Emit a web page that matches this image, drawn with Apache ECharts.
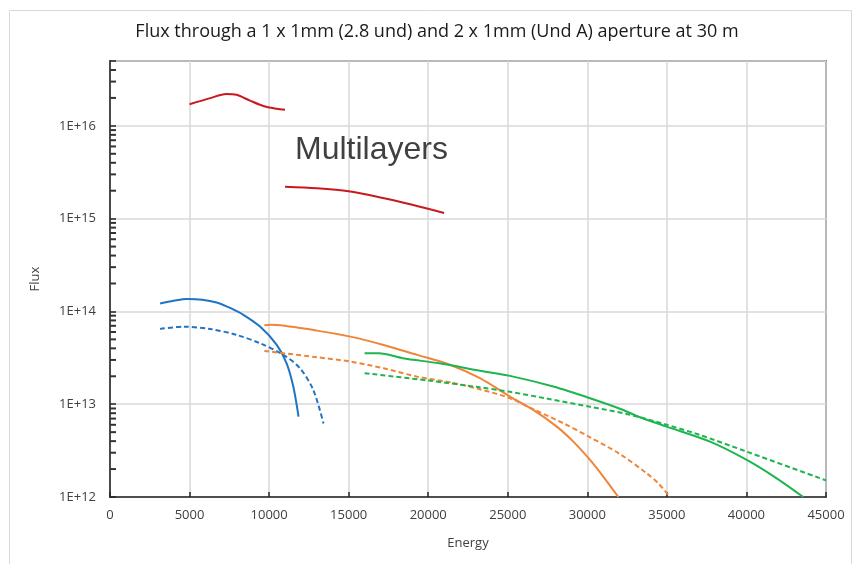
<!DOCTYPE html>
<html>
<head>
<meta charset="utf-8">
<script src="https://cdn.jsdelivr.net/npm/echarts@6/dist/echarts.min.js"></script>
<style>
html,body{margin:0;padding:0;background:#fff;}
#chart{width:856px;height:564px;}
</style>
</head>
<body>
<div id="chart"></div>
<script>
// ---- data (Energy, Flux) ----
const xTicks = [0, 5000, 10000, 15000, 20000, 25000, 30000, 35000, 40000, 45000];
const yTickExponents = [12, 13, 14, 15, 16];
const yMinorMultipliers = [2, 3, 4, 5, 6, 7, 8, 9];

const redUpper = [[5000,1.71e16],[6300,1.99e16],[7300,2.21e16],[7950,2.16e16],[8800,1.87e16],[9630,1.64e16],[10480,1.53e16],[11000,1.49e16]];
const redLower = [[11000,2.2e15],[13000,2.12e15],[15000,1.97e15],[17000,1.69e15],[19000,1.41e15],[21000,1.15e15]];

const blueSolid = [[3150,1.22e14],[4000,1.3e14],[4820,1.36e14],[5800,1.34e14],[6700,1.25e14],[7550,1.09e14],[8380,9.2e13],[9430,6.86e13],[10480,4.36e13],[11100,2.76e13],[11520,1.55e13],[11850,7.35e12]];
const blueDashed = [[3150,6.47e13],[4600,6.85e13],[6300,6.47e13],[7960,5.58e13],[9430,4.54e13],[10900,3.4e13],[11940,2.44e13],[12780,1.42e13],[13420,6.2e12]];

const orangeSolid = [[9700,7.1e13],[10100,7.2e13],[13000,6.21e13],[15100,5.35e13],[17200,4.35e13],[19300,3.4e13],[21400,2.65e13],[23250,1.91e13],[25140,1.21e13],[26600,8.67e12],[28080,5.73e12],[29120,3.95e12],[30170,2.51e12],[31000,1.66e12],[31950,1.0e12]];
const orangeDashed = [[9700,3.75e13],[13000,3.21e13],[15100,2.88e13],[17200,2.44e13],[19300,1.98e13],[21400,1.72e13],[23250,1.45e13],[25140,1.16e13],[26600,8.83e12],[28490,6.24e12],[30170,4.4e12],[32050,2.9e12],[33730,1.8e12],[34500,1.38e12],[35200,1.0e12]];

const greenSolid = [[16000,3.54e13],[16900,3.54e13],[18400,3.13e13],[20700,2.76e13],[23250,2.3e13],[25140,2.02e13],[27860,1.55e13],[30170,1.16e13],[32260,8.67e12],[33100,7.47e12],[34990,5.73e12],[37710,3.95e12],[40020,2.51e12],[41900,1.59e12],[43570,1.0e12]];
const greenDashed = [[16000,2.16e13],[20000,1.8e13],[23250,1.52e13],[25140,1.36e13],[27450,1.15e13],[30170,9.4e12],[32680,7.7e12],[34990,6.0e12],[37080,4.66e12],[40020,3.08e12],[45000,1.51e12]];

const titleText = 'Flux through a 1 x 1mm (2.8 und) and 2 x 1mm (Und A) aperture at 30 m';
const noteText = 'Multilayers';

const FONT = '"Open Sans", "Noto Sans", sans-serif';
const BLUE = '#1f74c4', ORANGE = '#f0853a', GREEN = '#1db54f', RED = '#c8191e';
const AXIS = '#262626', GRIDC = '#d9d9d9', TXT = '#404040';

const minorValues = [];
yTickExponents.forEach(function (e) {
  yMinorMultipliers.forEach(function (m) {
    const v = m * Math.pow(10, e);
    if (v < 5e16) minorValues.push(v);
  });
});

function line(data, color, dashed) {
  return {
    type: 'line', data: data, smooth: 0.3, symbol: 'none',
    lineStyle: { color: color, width: 2, type: dashed ? [5, 3] : 'solid' },
    itemStyle: { color: color }, silent: true, z: 3
  };
}

const chart = echarts.init(document.getElementById('chart'), null, { renderer: 'canvas' });
chart.setOption({
  animation: false,
  backgroundColor: '#fff',
  title: {
    text: titleText, left: 432, top: 18, textAlign: 'center',
    textStyle: { fontFamily: FONT, fontSize: 18, fontWeight: 'normal', color: '#1a1a1a' }
  },
  graphic: [
    { type: 'rect', left: 7, top: 8, shape: { width: 842, height: 560 }, style: { fill: 'none', stroke: '#d9d9d9', lineWidth: 1 }, silent: true, z: -10 },
    { type: 'text', left: 295, top: 134, style: { text: noteText, fontFamily: '"Liberation Sans", Arial, sans-serif', fontSize: 32, fill: '#404040' }, z: 10 }
  ],
  grid: { left: 110, right: 30, top: 61, bottom: 67, show: true, borderColor: AXIS, borderWidth: 1.5, backgroundColor: 'transparent' },
  xAxis: {
    type: 'value', min: 0, max: 45000, interval: 5000,
    name: 'Energy', nameLocation: 'middle', nameGap: 40,
    nameTextStyle: { fontFamily: FONT, fontSize: 13, color: TXT },
    axisLine: { show: true, lineStyle: { color: AXIS, width: 1.5 } },
    axisTick: { show: true, inside: true, length: 5, lineStyle: { color: AXIS, width: 1.5 } },
    axisLabel: { fontFamily: FONT, fontSize: 13, color: TXT, margin: 12, formatter: function (v) { return String(v); } },
    splitLine: { show: true, lineStyle: { color: GRIDC, width: 1.5 } }
  },
  yAxis: {
    type: 'log', logBase: 10, min: 1e12, max: 5e16,
    name: 'Flux', nameLocation: 'middle', nameGap: 68, nameRotate: 90,
    nameTextStyle: { fontFamily: FONT, fontSize: 13, color: TXT },
    axisLine: { show: true, lineStyle: { color: AXIS, width: 1.5 } },
    axisTick: { show: true, inside: true, length: 6, lineStyle: { color: AXIS, width: 1.5 } },
    axisLabel: {
      fontFamily: FONT, fontSize: 13, color: TXT, margin: 14,
      formatter: function (v) {
        const e = Math.round(Math.log10(v));
        if (Math.abs(Math.log10(v) - e) > 1e-6 || yTickExponents.indexOf(e) < 0) return '';
        return '1E+' + e;
      }
    },
    splitLine: { show: true, lineStyle: { color: GRIDC, width: 1.5 } }
  },
  series: [
    line(redUpper, RED, false),
    line(redLower, RED, false),
    line(blueSolid, BLUE, false),
    line(blueDashed, BLUE, true),
    line(orangeSolid, ORANGE, false),
    line(orangeDashed, ORANGE, true),
    line(greenSolid, GREEN, false),
    line(greenDashed, GREEN, true),
    {
      type: 'scatter', silent: true, z: 6, clip: false,
      data: minorValues.map(function (v) { return [0, v]; }),
      symbol: 'rect', symbolSize: [6, 2], symbolOffset: [3, 0],
      itemStyle: { color: '#333333', opacity: 1 },
      emphasis: { disabled: true }
    }
  ]
});
</script>
</body>
</html>
